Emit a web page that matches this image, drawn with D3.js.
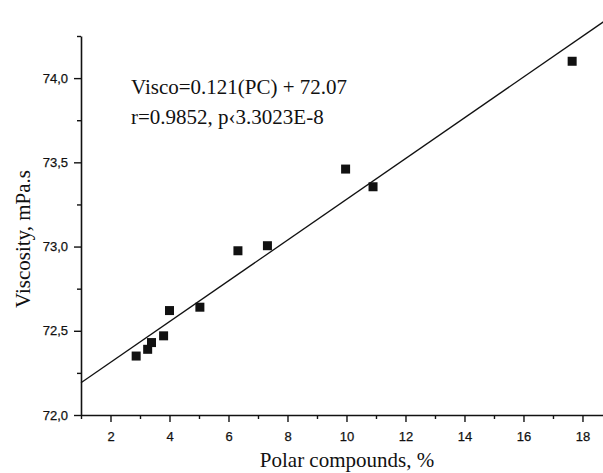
<!DOCTYPE html>
<html>
<head>
<meta charset="utf-8">
<script src="https://cdn.jsdelivr.net/npm/d3@7"></script>
<style>
	body { margin: 0; background: #fff; }
	svg { display: block; }
	.tick text { font-family: "Liberation Sans", Arial, sans-serif; font-size: 13px; fill: #111; stroke: #111; stroke-width: 0.25px; }
	.serif { font-family: "Liberation Serif", "Times New Roman", serif; fill: #111; }
</style>
</head>
<body>
<svg id="chart" width="603" height="473"></svg>
<script>
// Values
const polarCompounds = [2.87, 3.26, 3.39, 3.80, 4.00, 5.03, 6.32, 7.32, 9.97, 10.90, 17.65];
const viscosity = [72.35, 72.39, 72.43, 72.47, 72.62, 72.64, 72.975, 73.005, 73.46, 73.355, 74.10];
const xMajorTicks = [2, 4, 6, 8, 10, 12, 14, 16, 18];
const xMinorTicks = [1, 3, 5, 7, 9, 11, 13, 15, 17];
const yMajorTicks = [72.0, 72.5, 73.0, 73.5, 74.0];
const yMinorTicks = [72.25, 72.75, 73.25, 73.75, 74.25];
const fitSlope = 0.121;
const fitIntercept = 72.07;
const annotation = ["Visco=0.121(PC) + 72.07", "r=0.9852, p\u20393.3023E-8"];

const svg = d3.select("#chart");

const x = d3.scaleLinear().domain([1, 18.75]).range([81, 604.6]);
const y = d3.scaleLinear().domain([72, 74.25]).range([415, 36]);

const fmtY = (d) => d3.format(".1f")(d).replace(".", ",");

// minor ticks first, then major axis
svg.append("g")
	.attr("transform", `translate(0,${y(72)})`)
	.call(d3.axisBottom(x).tickValues(xMinorTicks).tickSize(4).tickFormat(""))
	.call((g) => g.select(".domain").remove())
	.selectAll("line").attr("stroke-width", 1.4);

svg.append("g")
	.attr("transform", `translate(${x(1)},0)`)
	.call(d3.axisLeft(y).tickValues(yMinorTicks).tickSize(4).tickFormat(""))
	.call((g) => g.select(".domain").remove())
	.selectAll("line").attr("stroke-width", 1.4);

const xAxis = svg.append("g")
	.attr("transform", `translate(0,${y(72)})`)
	.call(d3.axisBottom(x).tickValues(xMajorTicks).tickSize(7).tickPadding(10).tickSizeOuter(0).tickFormat(d3.format("d")));

const yAxis = svg.append("g")
	.attr("transform", `translate(${x(1)},0)`)
	.call(d3.axisLeft(y).tickValues(yMajorTicks).tickSize(7).tickPadding(6).tickSizeOuter(0).tickFormat(fmtY));

svg.selectAll(".domain").attr("stroke", "#111").attr("stroke-width", 1.6);
svg.selectAll(".tick line").attr("stroke", "#111").attr("stroke-width", 1.4);

// regression line
const xs = x.domain();
svg.append("line")
	.attr("x1", x(xs[0]))
	.attr("y1", y(fitSlope * xs[0] + fitIntercept))
	.attr("x2", x(xs[1]))
	.attr("y2", y(fitSlope * xs[1] + fitIntercept))
	.attr("stroke", "#111")
	.attr("stroke-width", 1.3);

// square markers
const pts = polarCompounds.map((pc, i) => ({ pc, v: viscosity[i] }));
svg.append("g")
	.selectAll("rect")
	.data(pts)
	.join("rect")
	.attr("x", (d) => x(d.pc) - 4.5)
	.attr("y", (d) => y(d.v) - 4.5)
	.attr("width", 9)
	.attr("height", 9)
	.attr("fill", "#111");

// equation text
svg.append("g")
	.selectAll("text")
	.data(annotation)
	.join("text")
	.attr("class", "serif")
	.attr("x", 131)
	.attr("y", (d, i) => 94 + i * 30)
	.style("font-size", "21px")
	.text((d) => d);

// axis titles
svg.append("text")
	.attr("class", "serif")
	.attr("x", 347)
	.attr("y", 467)
	.attr("text-anchor", "middle")
	.style("font-size", "21px")
	.text("Polar compounds, %");

svg.append("text")
	.attr("class", "serif")
	.attr("transform", "translate(30,239) rotate(-90)")
	.attr("text-anchor", "middle")
	.style("font-size", "21px")
	.text("Viscosity, mPa.s");
</script>
</body>
</html>
